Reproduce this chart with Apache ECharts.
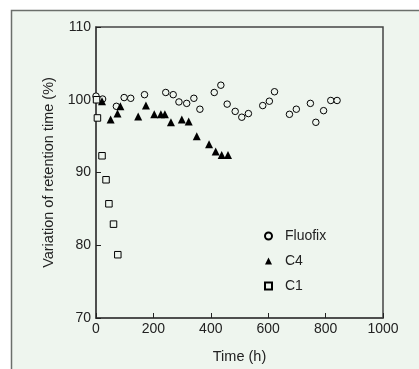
<!DOCTYPE html>
<html>
<head>
<meta charset="utf-8">
<script src="https://cdn.jsdelivr.net/npm/echarts@6/dist/echarts.min.js"></script>
<style>
html,body{margin:0;padding:0;background:#fff;}
#chart{width:419px;height:369px;}
</style>
</head>
<body>
<div id="chart"></div>
<script>
var seriesNames = ['Fluofix', 'C4', 'C1'];
var xTicks = [0, 200, 400, 600, 800, 1000];
var yTicks = [70, 80, 90, 100, 110];

var fluofixX = [0, 23, 71, 98, 121, 169, 243, 269, 289, 316, 341, 362, 412, 435, 457, 485, 508, 531, 581, 604, 622, 674, 698, 747, 766, 793, 818, 840];
var fluofixY = [100.5, 100.1, 99.1, 100.3, 100.2, 100.7, 101.0, 100.7, 99.7, 99.5, 100.2, 98.7, 101.0, 102.0, 99.4, 98.4, 97.6, 98.1, 99.2, 99.8, 101.1, 98.0, 98.7, 99.5, 96.9, 98.5, 99.9, 99.9];

var c4X = [21, 51, 75, 85, 147, 174, 203, 226, 240, 261, 299, 323, 351, 394, 417, 438, 460];
var c4Y = [99.8, 97.3, 98.1, 99.1, 97.7, 99.2, 98.0, 98.0, 98.0, 96.9, 97.3, 97.0, 95.0, 93.9, 92.9, 92.4, 92.4];

var c1X = [2, 5, 21, 35, 45, 61, 76];
var c1Y = [100.0, 97.5, 92.3, 89.0, 85.7, 82.9, 78.7];

function pairs(xs, ys){ return xs.map(function(x,i){ return [x, ys[i]]; }); }

var BG = '#eef5ee';
var FONT = '"Liberation Sans", Arial, sans-serif';
var chart = echarts.init(document.getElementById('chart'));
chart.setOption({
  animation: false,
  backgroundColor: '#fff',
  graphic: [{
    type: 'rect', z: -10, silent: true,
    shape: {x: 11.5, y: 10.5, width: 430, height: 380},
    style: {fill: BG, stroke: '#6b6f6b', lineWidth: 1.5}
  }],
  grid: {left: 96, top: 27, right: 36, bottom: 40, show: true, borderColor: '#444', borderWidth: 1.5, backgroundColor: 'transparent'},
  xAxis: {
    type: 'value', min: 0, max: 1000, interval: 200,
    name: 'Time (h)', nameLocation: 'middle', nameGap: 31,
    nameTextStyle: {fontFamily: FONT, fontSize: 14.5, color: '#222'},
    axisLine: {show: true, lineStyle: {color: '#444', width: 1.5}},
    axisTick: {show: true, inside: true, length: 5, lineStyle: {color: '#222'}},
    axisLabel: {fontFamily: FONT, fontSize: 14, color: '#222', margin: 4,
      formatter: function(v){ return String(v); }},
    splitLine: {show: false}
  },
  yAxis: {
    type: 'value', min: 70, max: 110, interval: 10,
    name: 'Variation of retention time (%)', nameLocation: 'middle', nameGap: 37,
    nameTextStyle: {fontFamily: FONT, fontSize: 14.5, color: '#222'},
    axisLine: {show: true, lineStyle: {color: '#444', width: 1.5}},
    axisTick: {show: true, inside: true, length: 5, lineStyle: {color: '#222'}},
    axisLabel: {fontFamily: FONT, fontSize: 14, color: '#222', margin: 5,
      formatter: function(v){ return String(v); }},
    splitLine: {show: false}
  },
  legend: {
    orient: 'vertical', left: 259, top: 224,
    itemWidth: 7, itemHeight: 7, itemGap: 11,
    textStyle: {fontFamily: FONT, fontSize: 14, color: '#222', padding: [0, 0, 0, 8]},
    data: seriesNames
  },
  series: [
    {name: seriesNames[0], type: 'scatter', symbol: 'circle', symbolSize: 6.5,
     itemStyle: {color: BG, borderColor: '#000', borderWidth: 1, opacity: 1},
     data: pairs(fluofixX, fluofixY)},
    {name: seriesNames[1], type: 'scatter', symbol: 'triangle', symbolSize: 8,
     itemStyle: {color: '#000', opacity: 1},
     data: pairs(c4X, c4Y)},
    {name: seriesNames[2], type: 'scatter', symbol: 'rect', symbolSize: 6.5,
     itemStyle: {color: BG, borderColor: '#000', borderWidth: 1, opacity: 1},
     data: pairs(c1X, c1Y)}
  ]
});
</script>
</body>
</html>
